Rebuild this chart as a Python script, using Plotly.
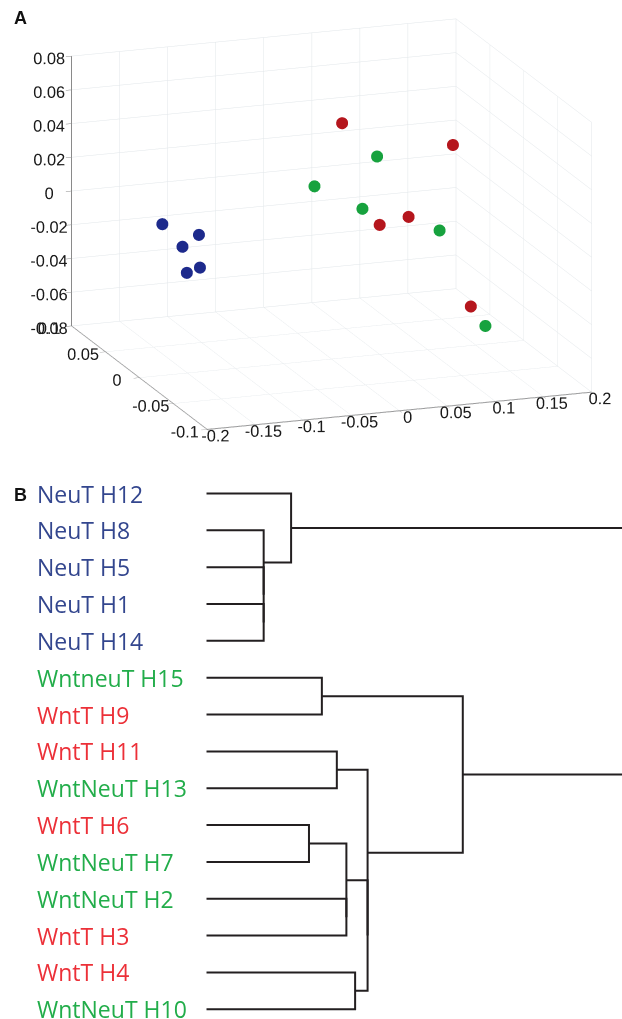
import plotly.graph_objects as go

# ---------------- Panel A : 3-D scores ----------------
blue_x = [-0.148, -0.117, -0.120, -0.123, -0.119]
blue_y = [0.040, 0.030, 0.050, 0.020, 0.045]
blue_z = [-0.004, -0.009, -0.022, -0.025, -0.036]

red_x = [0.032, 0.112, 0.080, 0.064, 0.180]
red_y = [0.030, -0.020, 0.000, 0.020, 0.050]
red_z = [0.049, 0.047, 0.000, -0.010, -0.074]

green_x = [0.026, -0.025, 0.039, 0.084, 0.174]
green_y = [-0.030, -0.010, 0.010, -0.040, 0.020]
green_z = [0.048, 0.027, 0.004, 0.004, -0.076]

x_ticks = [-0.2, -0.15, -0.1, -0.05, 0, 0.05, 0.1, 0.15, 0.2]
x_ticktext = ['-0.2', '-0.15', '-0.1', '-0.05', '0', '0.05', '0.1', '0.15', '0.2']
y_ticks = [-0.1, -0.05, 0, 0.05, 0.1]
y_ticktext = ['-0.1', '-0.05', '0', '0.05', '0.1']
z_ticks = [-0.08, -0.06, -0.04, -0.02, 0, 0.02, 0.04, 0.06, 0.08]
z_ticktext = ['-0.08', '-0.06', '-0.04', '-0.02', '0', '0.02', '0.04', '0.06', '0.08']

# ---------------- Panel B : dendrogram ----------------
leaf_labels = ['NeuT H12', 'NeuT H8', 'NeuT H5', 'NeuT H1', 'NeuT H14',
               'WntneuT H15', 'WntT H9', 'WntT H11', 'WntNeuT H13',
               'WntT H6', 'WntNeuT H7', 'WntNeuT H2', 'WntT H3',
               'WntT H4', 'WntNeuT H10']
leaf_groups = ['NeuT', 'NeuT', 'NeuT', 'NeuT', 'NeuT',
               'WntNeuT', 'WntT', 'WntT', 'WntNeuT',
               'WntT', 'WntNeuT', 'WntNeuT', 'WntT',
               'WntT', 'WntNeuT']
# merges: node 15 onward, children refer to leaves (0-14) or earlier nodes
merge_left = [3, 2, 1, 0, 5, 7, 9, 11, 21, 13, 23, 20, 19, 18]
merge_right = [4, 15, 16, 17, 6, 8, 10, 12, 22, 14, 24, 25, 26, 27]
merge_height = [0.138, 0.138, 0.138, 0.204, 0.278, 0.314, 0.247, 0.337,
                0.337, 0.358, 0.388, 0.388, 0.617, 1.2]

marker_colors = {'NeuT': '#1d2a8c', 'WntT': '#b5161d', 'WntNeuT': '#17a23e'}
text_colors = {'NeuT': '#33468e', 'WntT': '#ec3038', 'WntNeuT': '#22ad4a'}

W, H = 622, 1019
ZOOM = 1.79
fig = go.Figure()

for xs, ys, zs, g in [(blue_x, blue_y, blue_z, 'NeuT'),
                      (red_x, red_y, red_z, 'WntT'),
                      (green_x, green_y, green_z, 'WntNeuT')]:
    fig.add_trace(go.Scatter3d(
        x=xs, y=ys, z=zs, mode='markers',
        marker=dict(size=7, color=marker_colors[g], line=dict(width=0)),
        showlegend=False, hoverinfo='skip'))

# dendrogram lines
n = len(leaf_labels)
pos = {i: float(i) for i in range(n)}
hgt = {i: 0.0 for i in range(n)}
lx, ly = [], []
for k, (a, b, h) in enumerate(zip(merge_left, merge_right, merge_height)):
    node = n + k
    lx += [hgt[a], h, h, hgt[b], None]
    ly += [pos[a], pos[a], pos[b], pos[b], None]
    pos[node] = (pos[a] + pos[b]) / 2
    hgt[node] = h
fig.add_trace(go.Scatter(x=lx, y=ly, mode='lines',
                         line=dict(color='#231f20', width=2),
                         showlegend=False, hoverinfo='skip',
                         xaxis='x', yaxis='y'))

tickfont = dict(family='Liberation Sans, Arial', size=14, color='#1a1a1a')
axis3d = dict(showbackground=False, gridcolor='#e1e6e9', gridwidth=1,
              zeroline=False, showline=True, linecolor='#8a8a8a', linewidth=2,
              ticks='outside', tickcolor='#8a8a8a', ticklen=6, tickangle=0,
              tickfont=tickfont, title=dict(text=''), showspikes=False)

cam_center = dict(x=-0.087, y=0.025, z=-0.016)
view_dir = dict(x=-0.392, y=-1.100, z=0.330)
cam_eye = {k: cam_center[k] + view_dir[k] for k in 'xyz'}

fig.update_layout(
    width=W, height=H,
    margin=dict(l=0, r=0, t=0, b=0),
    paper_bgcolor='white', plot_bgcolor='white',
    scene=dict(
        domain=dict(x=[0.0, 1.0], y=[0.5527, 1.0]),
        xaxis=dict(axis3d, range=[-0.2, 0.2], tickvals=x_ticks, ticktext=x_ticktext),
        yaxis=dict(axis3d, range=[-0.1, 0.1], tickvals=y_ticks, ticktext=y_ticktext),
        zaxis=dict(axis3d, range=[-0.08, 0.08], tickvals=z_ticks, ticktext=z_ticktext),
        aspectmode='manual',
        aspectratio=dict(x=1 * ZOOM, y=0.99 * ZOOM, z=0.687 * ZOOM),
        camera=dict(eye=cam_eye, up=dict(x=0, y=0, z=1), center=cam_center,
                    projection=dict(type='orthographic')),
    ),
    xaxis=dict(domain=[206.3 / W, 1.0], range=[0, 1.0], visible=False),
    yaxis=dict(domain=[0, (H - 470) / H], range=[14.264, -0.638], visible=False),
)

for i, (lab, g) in enumerate(zip(leaf_labels, leaf_groups)):
    fig.add_annotation(x=35 / W, xref='paper', y=i, yref='y', text=lab,
                       showarrow=False, xanchor='left', yanchor='middle',
                       font=dict(family='Open Sans', size=23, color=text_colors[g]))

fig.add_annotation(x=12 / W, xref='paper', y=1 - 18 / H, yref='paper', text='<b>A</b>',
                   showarrow=False, xanchor='left', yanchor='middle',
                   font=dict(family='Liberation Sans, Arial', size=18, color='#111'))
fig.add_annotation(x=12 / W, xref='paper', y=1 - 495 / H, yref='paper', text='<b>B</b>',
                   showarrow=False, xanchor='left', yanchor='middle',
                   font=dict(family='Liberation Sans, Arial', size=18, color='#111'))

fig.write_html('out.html', config={'displayModeBar': False},
               post_script="document.body.style.margin='0px';document.body.style.overflow='hidden';")
